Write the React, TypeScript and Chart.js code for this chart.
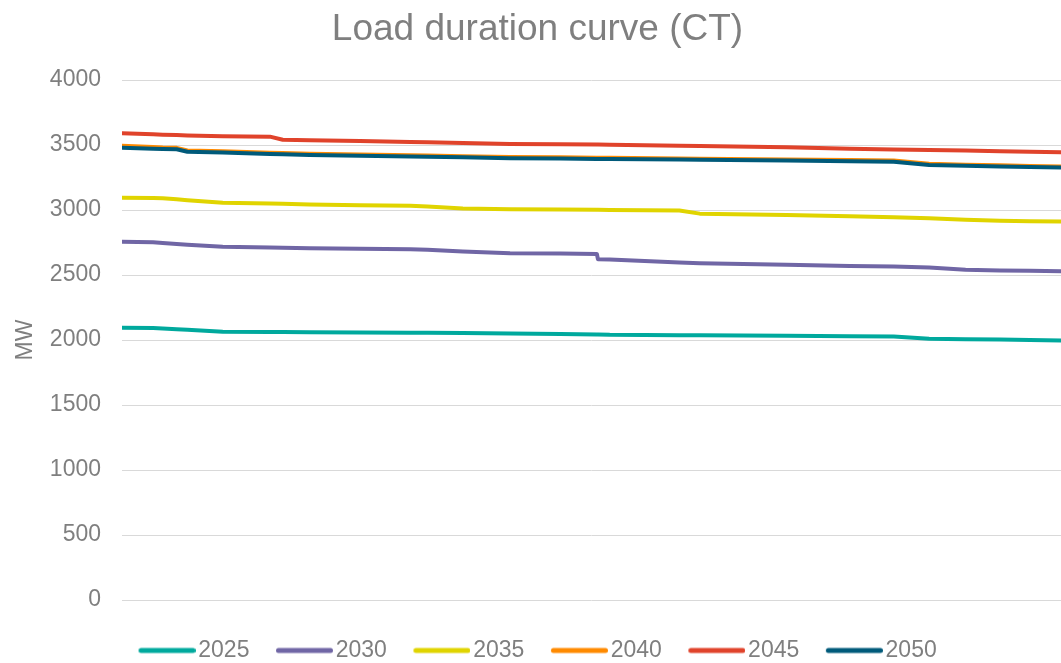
import React, { useEffect, useRef } from 'react';
import { Chart, registerables } from 'chart.js';

Chart.register(...registerables);

const chartTitle = 'Load duration curve (CT)';
const yAxisTitle = 'MW';
const seriesNames = ['2025', '2030', '2035', '2040', '2045', '2050'];
const seriesColors = ['#00A99D', '#7066A5', '#E0D400', '#FF8A00', '#E0432B', '#005A7A'];
const yMin = 0;
const yMax = 4000;
const yStep = 500;

// hour of the year (sorted load duration)
const hours = [0, 290, 380, 510, 610, 940, 1380, 1500, 1750, 2220, 2690, 2850, 3180, 3620, 4090, 4430, 4440, 4550, 5200, 5390, 6200, 6790, 7200, 7530, 7870, 8190, 8470, 8760];
const load2025 = [2095, 2092, 2088, 2082, 2078, 2064, 2062, 2061, 2060, 2058, 2056, 2055, 2053, 2050, 2046, 2043, 2043, 2040, 2037, 2036, 2032, 2029, 2026, 2010, 2006, 2003, 2000, 1997];
const load2030 = [2755, 2752, 2746, 2739, 2733, 2718, 2712, 2710, 2705, 2702, 2698, 2694, 2680, 2667, 2665, 2662, 2622, 2620, 2596, 2590, 2578, 2570, 2566, 2558, 2540, 2535, 2532, 2529];
const load2035 = [3095, 3093, 3090, 3082, 3075, 3056, 3050, 3048, 3042, 3037, 3032, 3027, 3012, 3006, 3003, 3001, 3001, 3000, 2996, 2972, 2962, 2952, 2945, 2936, 2925, 2918, 2914, 2911];
const load2040 = [3494, 3485, 3481, 3478, 3458, 3451, 3440, 3438, 3433, 3427, 3421, 3419, 3414, 3407, 3405, 3402, 3402, 3401, 3397, 3395, 3389, 3384, 3381, 3356, 3349, 3344, 3339, 3335];
const load2045 = [3590, 3582, 3579, 3576, 3573, 3568, 3564, 3540, 3537, 3530, 3523, 3521, 3516, 3508, 3505, 3503, 3503, 3502, 3495, 3492, 3482, 3472, 3466, 3462, 3457, 3452, 3448, 3444];
const load2050 = [3479, 3472, 3470, 3467, 3448, 3442, 3430, 3428, 3424, 3418, 3412, 3410, 3405, 3398, 3396, 3393, 3393, 3392, 3388, 3386, 3380, 3375, 3372, 3347, 3340, 3335, 3330, 3326];

const seriesValues = [load2025, load2030, load2035, load2040, load2045, load2050];

const FONT = "'Liberation Sans', Arial, sans-serif";
const TEXT_COLOR = '#7f7f7f';

function makeLegendLine(color: string): HTMLCanvasElement {
  const c = document.createElement('canvas');
  c.width = 66;
  c.height = 10;
  const g = c.getContext('2d')!;
  g.strokeStyle = color;
  g.lineWidth = 5;
  g.lineCap = 'round';
  g.beginPath();
  g.moveTo(11.5, 5);
  g.lineTo(63.5, 5);
  g.stroke();
  return c;
}

export default function App() {
  const ref = useRef<HTMLCanvasElement | null>(null);

  useEffect(() => {
    if (!ref.current) return;
    const legendImages = seriesColors.map(makeLegendLine);
    const chart = new Chart(ref.current, {
      type: 'line',
      data: {
        datasets: seriesNames.map((name, i) => ({
          label: name,
          data: hours.map((h, j) => ({ x: h, y: seriesValues[i][j] })),
          borderColor: seriesColors[i],
          backgroundColor: seriesColors[i],
          borderWidth: 4,
          borderJoinStyle: 'round',
          borderCapStyle: 'round',
          pointRadius: 0,
          tension: 0,
          fill: false,
          order: seriesNames.length - i,
        })),
      },
      options: {
        responsive: false,
        animation: false,
        devicePixelRatio: 1,
        layout: { padding: 0 },
        plugins: {
          title: {
            display: true,
            text: chartTitle,
            color: TEXT_COLOR,
            font: { family: FONT, size: 37, weight: 'normal', lineHeight: 1.2 },
            padding: { top: 8, bottom: 27.6 },
          },
          legend: {
            display: true,
            position: 'bottom',
            labels: {
              color: TEXT_COLOR,
              font: { family: FONT, size: 23 },
              usePointStyle: true,
              pointStyleWidth: 48.5,
              padding: 26.3,
              sort: (a: any, b: any) => a.datasetIndex - b.datasetIndex,
              generateLabels: (chart: any) => {
                const items = Chart.defaults.plugins.legend.labels.generateLabels(chart);
                return items.map((it: any) => ({ ...it, pointStyle: legendImages[it.datasetIndex] }));
              },
            },
          },
          tooltip: { enabled: false },
        },
        scales: {
          x: {
            type: 'linear',
            min: hours[0],
            max: hours[hours.length - 1],
            display: true,
            ticks: { display: false },
            grid: { display: false },
            border: { display: false },
            afterFit: (s: any) => { s.height = 12.7; },
          },
          y: {
            min: yMin,
            max: yMax,
            ticks: {
              stepSize: yStep,
              color: TEXT_COLOR,
              font: { family: FONT, size: 23 },
              padding: 21,
              callback: (v: any) => String(v),
            },
            grid: { color: '#d9d9d9', lineWidth: 1, drawTicks: false },
            border: { display: false },
            title: {
              display: true,
              text: yAxisTitle,
              color: TEXT_COLOR,
              font: { family: FONT, size: 23 },
              padding: { top: 12, bottom: 0 },
            },
            afterFit: (s: any) => { s.width = 122; },
          },
          yRightSpacer: {
            type: 'linear',
            position: 'right',
            min: yMin,
            max: yMax,
            display: true,
            ticks: { display: false },
            grid: { display: false, drawOnChartArea: false },
            border: { display: false },
            afterFit: (s: any) => { s.width = 14; },
          },
        },
      },
    } as any);
    return () => chart.destroy();
  }, []);

  return (
    <div style={{ position: 'fixed', left: 0, top: 0, width: 1061, height: 663, overflow: 'hidden', background: '#fff' }}>
      <canvas ref={ref} width={1075} height={672} style={{ display: 'block' }} />
    </div>
  );
}
